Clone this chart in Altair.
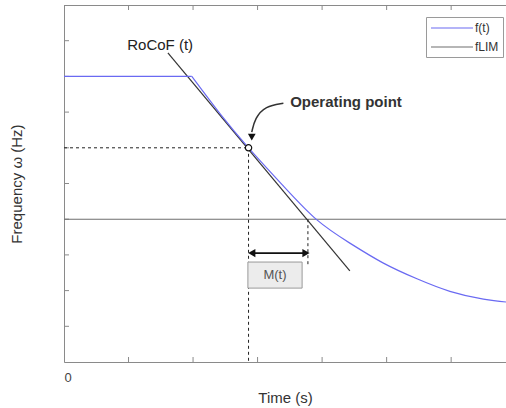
import altair as alt
import pandas as pd

# ---- data ----
f_t = [1.98, 2.42, 2.86, 3.40, 3.92, 4.43, 4.95, 5.47, 5.98, 6.50, 6.85]
f_y = [8.00, 6.95, 6.00, 4.93, 3.98, 3.33, 2.77, 2.33, 1.98, 1.76, 1.68]
flat_t = [0.0, 1.98]
flat_y = [8.0, 8.0]
flim_t = [0.0, 6.85]
flim_y = [4.0, 4.0]
tan_t = [1.61, 4.43]
tan_y = [8.66, 2.55]
op_t, op_y = 2.86, 6.0
cross_t = 3.78           # tangent meets fLIM
mt_bottom = 2.66         # end of dashed drop from crossing
arrow_y = 3.05
arrow_t = [2.91, 3.75]
box_t = [2.85, 3.69]
box_y = [2.07, 2.80]
curve_t = [3.40, 3.12, 2.96, 2.91]
curve_y = [7.25, 7.17, 6.83, 6.44]
x_ticks = [1, 2, 3, 4, 5, 6]
y_ticks = [1, 2, 3, 4, 5, 6, 7, 8, 9]
X_MAX, Y_MAX = 6.85, 10

W, H = 442, 357
FONT = "Liberation Sans"
AX = "#8a8a8a"

xs = alt.Scale(domain=[0, X_MAX], nice=False, zero=False)
ys = alt.Scale(domain=[0, Y_MAX], nice=False, zero=False)
cscale = alt.Scale(domain=["f(t)", "fLIM"], range=["#6a6af2", "#6e6e6e"])

main_df = pd.concat([
    pd.DataFrame({"t": flat_t, "y": flat_y, "series": "f(t)", "part": "flat"}),
    pd.DataFrame({"t": f_t, "y": f_y, "series": "f(t)", "part": "fall"}),
])
flim_df = pd.DataFrame({"t": flim_t, "y": flim_y, "series": "fLIM", "part": "lim"})

xaxis = alt.Axis(title="Time (s)", ticks=False, grid=False, domainColor=AX,
                 labelExpr="datum.value == 0 ? '0' : ''", values=[0],
                 labelFont=FONT, labelFontSize=13, labelColor="#444",
                 labelPadding=9, titleFont=FONT, titleFontSize=15,
                 titleFontWeight="normal", titleColor="#333", titlePadding=6)
yaxis = alt.Axis(title="Frequency ω (Hz)", ticks=False, grid=False, labels=False,
                 domainColor=AX, titleFont=FONT, titleFontSize=15,
                 titleFontWeight="normal", titleColor="#333", titlePadding=40)

fline = alt.Chart(main_df).mark_line(strokeWidth=1.2, interpolate="natural").encode(
    x=alt.X("t:Q", scale=xs, axis=xaxis),
    y=alt.Y("y:Q", scale=ys, axis=yaxis),
    detail="part:N",
    color=alt.Color("series:N", scale=cscale, legend=alt.Legend(
        title=None, orient="none", legendX=362, legendY=12,
        symbolType="M-1,0H6", symbolSize=144, symbolStrokeWidth=1.2,
        labelFont=FONT, labelFontSize=12, labelColor="#333",
        strokeColor="#9a9a9a", fillColor="white", padding=4,
        rowPadding=6, labelOffset=31, cornerRadius=0)),
)
flim = alt.Chart(flim_df).mark_line(strokeWidth=1.1).encode(
    x="t:Q", y="y:Q", color=alt.Color("series:N", scale=cscale))

tan = alt.Chart(pd.DataFrame({"t": tan_t, "y": tan_y})).mark_line(
    color="#333", strokeWidth=1.2).encode(x="t:Q", y="y:Q")

dash_df = pd.DataFrame({
    "t": [0, op_t, op_t, op_t, cross_t, cross_t],
    "y": [op_y, op_y, op_y, 0, flim_y[0], mt_bottom],
    "g": ["h", "h", "v", "v", "m", "m"],
})
dashes = alt.Chart(dash_df).mark_line(color="#222", strokeDash=[3, 3], strokeWidth=1).encode(
    x="t:Q", y="y:Q", detail="g:N")

arr = alt.Chart(pd.DataFrame({"t": arrow_t, "y": [arrow_y] * 2})).mark_line(
    color="#111", strokeWidth=1.8).encode(x="t:Q", y="y:Q")
heads = alt.Chart(pd.DataFrame({"t": arrow_t, "y": [arrow_y] * 2,
                                "s": ["triangle-left", "triangle-right"]})).mark_point(
    filled=True, color="#111", size=70, opacity=1).encode(
    x="t:Q", y="y:Q", shape=alt.Shape("s:N", scale=None, legend=None))

box = alt.Chart(pd.DataFrame({"t": [box_t[0]], "t2": [box_t[1]], "y": [box_y[0]], "y2": [box_y[1]]})).mark_rect(
    fill="#ececec", stroke="#999", strokeWidth=1).encode(x="t:Q", x2="t2:Q", y="y:Q", y2="y2:Q")
box_txt = alt.Chart(pd.DataFrame({"t": [sum(box_t) / 2], "y": [sum(box_y) / 2], "txt": ["M(t)"]})).mark_text(
    font=FONT, fontSize=13, color="#555").encode(x="t:Q", y="y:Q", text="txt:N")

curve = alt.Chart(pd.DataFrame({"t": curve_t, "y": curve_y, "o": range(4)})).mark_line(
    color="#333", strokeWidth=1.5, interpolate="basis").encode(x="t:Q", y="y:Q", order="o:Q")
curve_head = alt.Chart(pd.DataFrame({"t": [2.91], "y": [6.30]})).mark_point(
    shape="triangle-down", filled=True, color="#111", size=60, opacity=1).encode(x="t:Q", y="y:Q")

opc = alt.Chart(pd.DataFrame({"t": [op_t], "y": [op_y]})).mark_point(
    shape="circle", filled=True, fill="white", stroke="#111", strokeWidth=1.2, size=40, opacity=1).encode(
    x="t:Q", y="y:Q")

rocof = alt.Chart(pd.DataFrame({"t": [1.49], "y": [8.88], "txt": ["RoCoF (t)"]})).mark_text(
    font=FONT, fontSize=15, color="#222").encode(x="t:Q", y="y:Q", text="txt:N")
oplab = alt.Chart(pd.DataFrame({"t": [4.37], "y": [7.28], "txt": ["Operating point"]})).mark_text(
    font=FONT, fontSize=15, fontWeight="bold", color="#333").encode(x="t:Q", y="y:Q", text="txt:N")

# inward tick marks and top frame
xt = pd.DataFrame({"t": x_ticks})
yt = pd.DataFrame({"y": y_ticks})
bot_ticks = alt.Chart(xt).mark_rule(color=AX).encode(x="t:Q", y=alt.value(H), y2=alt.value(H - 5))
top_ticks = alt.Chart(xt).mark_rule(color=AX).encode(x="t:Q", y=alt.value(0), y2=alt.value(5))
left_ticks = alt.Chart(yt).mark_rule(color=AX).encode(y="y:Q", x=alt.value(0), x2=alt.value(5))
top_line = alt.Chart(xt).mark_rule(color=AX).encode(x=alt.value(0), x2=alt.value(W), y=alt.value(0.5))

chart = alt.layer(
    top_line, bot_ticks, top_ticks, left_ticks,
    flim, dashes, tan, fline, arr, heads, box, box_txt, curve, curve_head, opc, rocof, oplab,
).properties(
    width=W, height=H,
    padding={"left": 64, "top": 5, "right": 0, "bottom": 46},
    autosize=alt.AutoSizeParams(type="none"),
).configure_view(stroke=None).configure(background="white")

chart.save("out.html", embed_options={"renderer": "svg", "actions": False})
